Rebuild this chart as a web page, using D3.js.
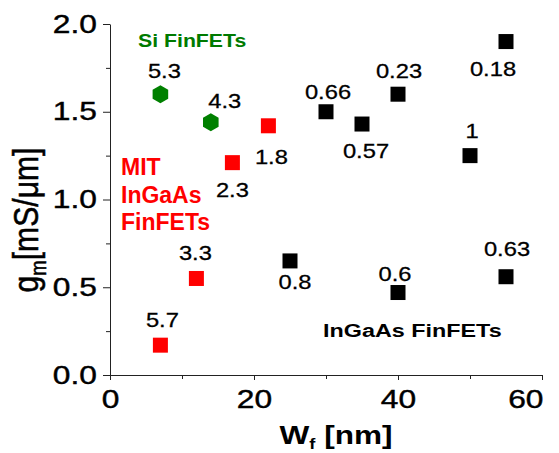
<!DOCTYPE html>
<html>
<head>
<meta charset="utf-8">
<script src="https://cdn.jsdelivr.net/npm/d3@7"></script>
<style>
  body { margin: 0; background: #fff; }
  svg { display: block; font-family: "Liberation Sans", Arial, sans-serif; }
</style>
</head>
<body>
<div id="chart"></div>
<script>
// InGaAs FinFETs (black squares)
var ingaasW = [25, 30, 35, 40, 50, 55, 40, 55];
var ingaasGm = [0.65, 1.50, 1.43, 1.60, 1.25, 1.90, 0.47, 0.56];
var ingaasTag = ["0.8", "0.66", "0.57", "0.23", "1", "0.18", "0.6", "0.63"];

// MIT InGaAs FinFETs (red squares)
var mitW = [7, 12, 17, 22];
var mitGm = [0.17, 0.55, 1.21, 1.42];
var mitTag = ["5.7", "3.3", "2.3", "1.8"];

// Si FinFETs (green hexagons)
var siW = [7, 14];
var siGm = [1.60, 1.44];
var siTag = ["5.3", "4.3"];

var xTicks = [0, 20, 40, 60];
var yTicks = [0, 0.5, 1.0, 1.5, 2.0];

// label offsets from marker centre, px
var ingaasTagPos = [[5, 28], [2, -13], [4, 34], [1, -16], [2, -18], [-13, 34], [-3, -12], [1, -21]];
var mitTagPos = [[2, -18], [-1, -18], [0, 34], [3, 38]];
var siTagPos = [[4, -16], [14, -14]];

var width = 559, height = 453;
var margin = { top: 24, right: 17, bottom: 78, left: 110 };

var svg = d3.select("#chart").append("svg")
    .attr("width", width)
    .attr("height", height);

var x = d3.scaleLinear().domain([0, 60]).range([margin.left, width - margin.right]);
var y = d3.scaleLinear().domain([0, 2]).range([height - margin.bottom, margin.top]);

// text squeezed wider, like the original figure
function wide(sel, tx, ty, sx, anchor) {
    sel.attr("x", 0).attr("y", 0).attr("dy", null)
        .attr("text-anchor", anchor || "middle")
        .attr("transform", "translate(" + tx + "," + ty + ") scale(" + sx + ",1)");
}

// minor ticks
svg.append("g")
    .attr("transform", "translate(" + margin.left + ",0)")
    .call(d3.axisLeft(y).tickValues([0.25, 0.75, 1.25, 1.75]).tickSize(4).tickFormat(""))
    .call(g => g.select(".domain").remove());
svg.append("g")
    .attr("transform", "translate(0," + y(0) + ")")
    .call(d3.axisBottom(x).tickValues([10, 30, 50]).tickSize(4).tickFormat(""))
    .call(g => g.select(".domain").remove());

// Y axis
var yAxis = svg.append("g")
    .attr("transform", "translate(" + margin.left + ",0)")
    .call(d3.axisLeft(y).tickValues(yTicks).tickFormat(d3.format(".1f")).tickSize(7).tickSizeOuter(0));
yAxis.selectAll("text")
    .style("font-size", "25px")
    .attr("fill", "#000").attr("stroke", "#000").attr("stroke-width", 0.4)
    .each(function () { wide(d3.select(this), -13, 8, 1.27, "end"); });

// X axis
var xAxis = svg.append("g")
    .attr("transform", "translate(0," + y(0) + ")")
    .call(d3.axisBottom(x).tickValues(xTicks).tickFormat(d3.format("d")).tickSize(5).tickSizeOuter(0));
xAxis.selectAll("text")
    .style("font-size", "25px")
    .attr("fill", "#000").attr("stroke", "#000").attr("stroke-width", 0.4)
    .each(function (d) {
        var last = d === xTicks[xTicks.length - 1];
        // last label tucked inside the figure edge
        wide(d3.select(this), last ? 1 : 0, 33, 1.27, last ? "end" : "middle");
    });

svg.selectAll(".domain, .tick line").attr("stroke", "#222").attr("stroke-width", 1);

// X axis title
var xt = svg.append("text")
    .style("font-size", "26px")
    .style("font-weight", "bold");
xt.append("tspan").text("W");
xt.append("tspan").text("f").style("font-size", "15px").attr("dy", 5);
xt.append("tspan").text(" [nm]").attr("dy", -5);
var xtw = xt.node().getBBox().width;
wide(xt, 336, 444, 113 / xtw, "middle");

// Y axis title
var yt = svg.append("text")
    .style("font-size", "26px")
    .attr("stroke", "#000").attr("stroke-width", 0.4)
    .attr("text-anchor", "middle");
yt.append("tspan").text("g");
yt.append("tspan").text("m").style("font-size", "16px").attr("dy", 6);
yt.append("tspan").text("[mS/\u03bcm]").attr("dy", -6);
var ytw = yt.node().getBBox().width;
yt.attr("transform", "translate(38,220) rotate(-90) scale(" + (145 / ytw) + ",1.35)");

// markers
function squares(ws, gs, colour) {
    svg.append("g").selectAll("rect")
        .data(ws)
        .join("rect")
        .attr("x", (d, i) => x(d) - 7.5)
        .attr("y", (d, i) => y(gs[i]) - 7.5)
        .attr("width", 15)
        .attr("height", 15)
        .attr("fill", colour);
}
squares(ingaasW, ingaasGm, "#000");
squares(mitW, mitGm, "#ff0000");

var hex = d3.range(6).map(function (k) {
    var a = Math.PI / 3 * k - Math.PI / 2;
    return [9 * Math.cos(a), 9 * Math.sin(a)];
});
svg.append("g").selectAll("path")
    .data(siW)
    .join("path")
    .attr("d", "M" + hex.join("L") + "Z")
    .attr("transform", (d, i) => "translate(" + x(d) + "," + y(siGm[i]) + ")")
    .attr("fill", "#008000");

// value labels
function tags(ws, gs, labels, pos) {
    svg.append("g").selectAll("text")
        .data(ws)
        .join("text")
        .style("font-size", "21px")
        .attr("fill", "#000").attr("stroke", "#000").attr("stroke-width", 0.3)
        .text((d, i) => labels[i])
        .each(function (d, i) {
            wide(d3.select(this), x(d) + pos[i][0], y(gs[i]) + pos[i][1], 1.13, "middle");
        });
}
tags(ingaasW, ingaasGm, ingaasTag, ingaasTagPos);
tags(mitW, mitGm, mitTag, mitTagPos);
tags(siW, siGm, siTag, siTagPos);

// group names
var si = svg.append("text")
    .style("font-size", "18.5px").style("font-weight", "bold")
    .attr("fill", "#007a00")
    .text("Si FinFETs");
wide(si, 138, 47, 1.15, "start");

["MIT", "InGaAs", "FinFETs"].forEach(function (t, i) {
    var m = svg.append("text")
        .style("font-size", "23px").style("font-weight", "bold")
        .attr("fill", "#ff0000")
        .text(t);
    wide(m, 121, 175 + i * 27.7, 1.0, "start");
});

var ig = svg.append("text")
    .style("font-size", "17.7px").style("font-weight", "bold")
    .attr("fill", "#000")
    .text("InGaAs FinFETs");
wide(ig, 323, 337, 1.32, "start");
</script>
</body>
</html>
